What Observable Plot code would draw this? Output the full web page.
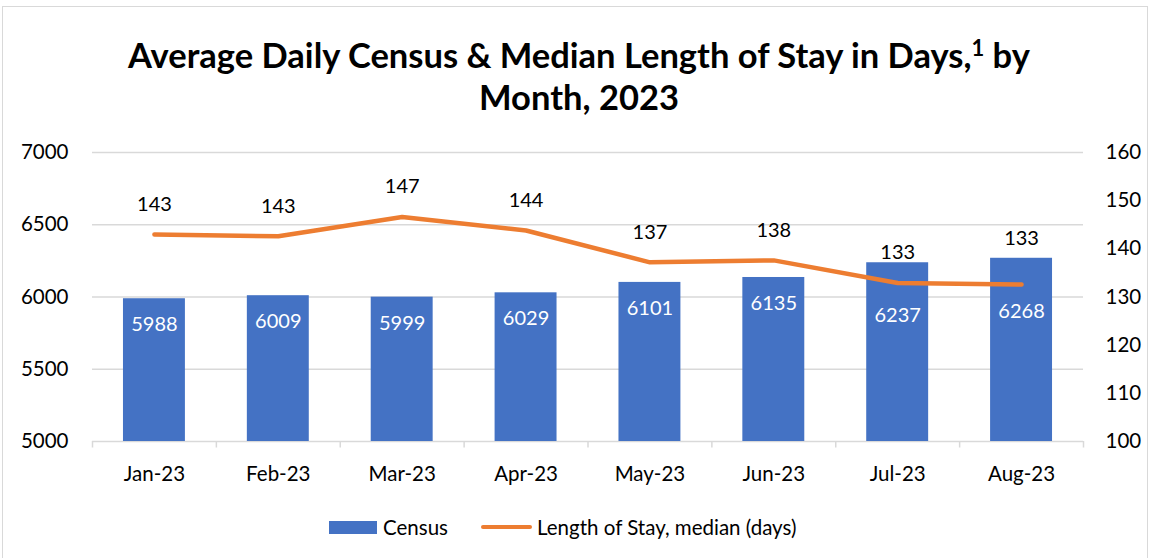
<!DOCTYPE html>
<html>
<head>
<meta charset="utf-8">
<script src="https://cdn.jsdelivr.net/npm/d3@7"></script>
<script src="https://cdn.jsdelivr.net/npm/@observablehq/plot@0.6"></script>
<style>
  html, body { margin: 0; padding: 0; background: #fff; }
  #wrap { position: relative; width: 1150px; height: 558px; overflow: hidden; font-family: Lato, "Open Sans", sans-serif; }
  #frame { position: absolute; left: 2px; top: 6px; width: 1146px; height: 560px; border: 1px solid #d9d9d9; box-sizing: border-box; }
  #title { position: absolute; left: 4px; width: 1150px; top: 34px; text-align: center; font-weight: 700; font-size: 34.5px; line-height: 42px; color: #000; }
  #title sup { font-size: 22px; line-height: 0; vertical-align: 12px; }
  .plot { position: absolute; left: 0; top: 130px; }
  #legend { position: absolute; top: 514px; left: 0; width: 1150px; height: 26px; font-size: 20.5px; color: #000; }
  .lg { position: absolute; top: 0; line-height: 26px; }
</style>
</head>
<body>
<div id="wrap">
  <div id="frame"></div>
  <div id="title">Average Daily Census &amp; Median Length of Stay in Days,<sup>1</sup> by<br>Month, 2023</div>
  <div id="p1" class="plot"></div>
  <div id="p2" class="plot"></div>
  <div id="legend">
    <div style="position:absolute;left:329px;top:7px;width:48px;height:13px;background:#4472C4"></div>
    <div class="lg" style="left:383px">Census</div>
    <div style="position:absolute;left:481px;top:11px;width:51px;height:4px;border-radius:2px;background:#ED7D31"></div>
    <div class="lg" style="left:537px">Length of Stay, median (days)</div>
  </div>
</div>
<script>
const months = ["Jan-23","Feb-23","Mar-23","Apr-23","May-23","Jun-23","Jul-23","Aug-23"];
const census = [5988, 6009, 5999, 6029, 6101, 6135, 6237, 6268];
const stay = [143.0, 142.6, 146.6, 143.8, 137.2, 137.6, 132.9, 132.6];
const stayLabels = [143, 143, 147, 144, 137, 138, 133, 133];
const leftTicks = [5000, 5500, 6000, 6500, 7000];
const rightTicks = [100, 110, 120, 130, 140, 150, 160];

const barData = months.map((m, i) => ({month: m, census: census[i], i}));
const lineData = months.map((m, i) => ({month: m, stay: stay[i], label: stayLabels[i], i}));

const W = 1150, H = 360, ML = 92, MR = 67, MT = 22, MB = 49;
const step = (W - ML - MR) / months.length;
const common = {
  width: W, height: H, marginLeft: ML, marginRight: MR, marginTop: MT, marginBottom: MB,
  style: {fontFamily: "Lato, 'Open Sans', sans-serif", fontSize: "20.5px", color: "#000", background: "transparent", overflow: "visible"}
};

// Jul & Aug bar labels sit lower (moved below the line in the original)
const barLow = d => d.i >= 6;

const p1 = Plot.plot({
  ...common,
  x: {domain: months, paddingInner: 0.5, paddingOuter: 0.25, round: false, label: null},
  y: {domain: [5000, 7000], label: null},
  marks: [
    Plot.gridY(leftTicks, {stroke: "#d9d9d9", strokeOpacity: 1, strokeWidth: 1.5}),
    Plot.ruleX(months, {x: d => d, dx: -step / 2, y1: 5000, y2: 4955, stroke: "#d9d9d9", strokeWidth: 1.5}),
    Plot.ruleX(months.slice(-1), {x: d => d, dx: step / 2, y1: 5000, y2: 4955, stroke: "#d9d9d9", strokeWidth: 1.5}),
    Plot.barY(barData, {x: "month", y1: 5000, y2: "census", fill: "#4472C4"}),
    Plot.text(barData.filter(d => !barLow(d)), {x: "month", y: "census", text: d => String(d.census), dy: 26, fill: "#fff", fontSize: 20}),
    Plot.text(barData.filter(barLow), {x: "month", y: "census", text: d => String(d.census), dy: 53, fill: "#fff", fontSize: 20}),
    Plot.axisY({ticks: leftTicks, tickSize: 0, tickPadding: 24, tickFormat: d => String(d), label: null}),
    Plot.axisX({tickSize: 0, tickPadding: 25, label: null})
  ]
});
document.getElementById("p1").appendChild(p1);

const p2 = Plot.plot({
  ...common,
  x: {domain: months, type: "point", padding: 0.5, round: false, axis: null},
  y: {domain: [100, 160], label: null},
  marks: [
    Plot.line(lineData, {x: "month", y: "stay", stroke: "#ED7D31", strokeWidth: 4.5, strokeLinecap: "round", strokeLinejoin: "round"}),
    Plot.text(lineData.filter(d => d.i < 7), {x: "month", y: "stay", text: d => String(d.label), dy: -30, fill: "#000", fontSize: 20}),
    Plot.text(lineData.filter(d => d.i === 7), {x: "month", y: "stay", text: d => String(d.label), dy: -46, fill: "#000", fontSize: 20}),
    Plot.axisY({anchor: "right", ticks: rightTicks, tickSize: 0, tickPadding: 22, tickFormat: d => String(d), label: null})
  ]
});
document.getElementById("p2").appendChild(p2);
</script>
</body>
</html>
